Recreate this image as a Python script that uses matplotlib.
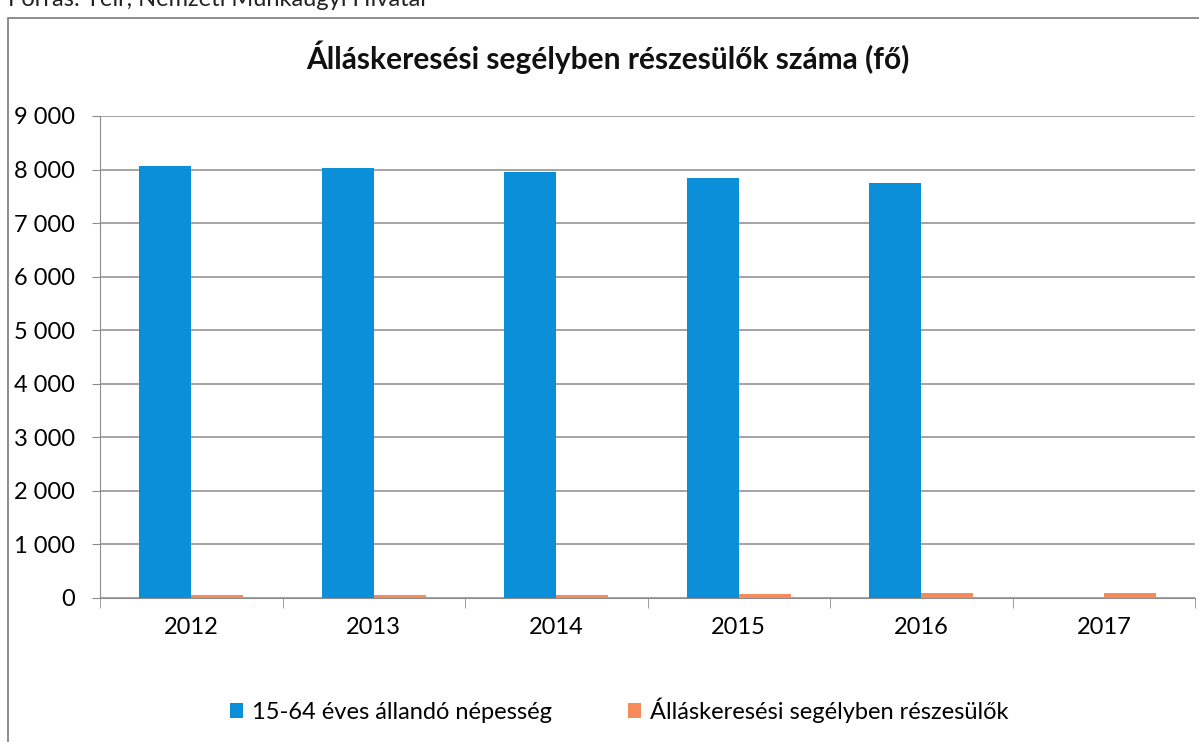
import numpy as np
import matplotlib.pyplot as plt
from matplotlib.patches import Rectangle

plt.rcParams['font.family'] = ['Lato', 'DejaVu Sans']

# data
years = ['2012', '2013', '2014', '2015', '2016', '2017']
nepesseg = [8060, 8020, 7950, 7850, 7740, 0]
segely = [50, 60, 65, 75, 85, 95]
y_ticks = [0, 1000, 2000, 3000, 4000, 5000, 6000, 7000, 8000, 9000]
y_labels = ['0', '1 000', '2 000', '3 000', '4 000', '5 000', '6 000', '7 000', '8 000', '9 000']

blue = '#0b8fd9'
orange = '#f58b58'
grid_c = '#8c8c8c'

fig = plt.figure(figsize=(11.99, 7.42), dpi=100)

# chart frame (partly cut by the scan)
fig.patches.append(Rectangle((8 / 1199, -0.05), 1.2, 1.05 - 18 / 742,
                             transform=fig.transFigure, fill=False,
                             edgecolor='#7a7a7a', lw=1.2))
fig.text(8 / 1199, 1.0, 'Forrás: Teir, Nemzeti Munkaügyi Hivatal',
         fontsize=17, va='center', ha='left', color='#222222')

ax = fig.add_axes([100 / 1199, 1 - 598 / 742, 1095 / 1199, (598 - 116) / 742])

x = np.arange(len(years))
w = 0.285
ax.bar(x - w / 2, nepesseg, w, color=blue, label='15-64 éves állandó népesség', zorder=3)
ax.bar(x + w / 2, segely, w, color=orange, label='Álláskeresési segélyben részesülők', zorder=3)

ax.set_xlim(-0.5, len(years) - 0.5)
ax.set_ylim(0, 9000)
ax.set_yticks(y_ticks)
ax.set_yticklabels(y_labels, fontsize=17)
ax.set_xticks(x)
ax.set_xticklabels(years, fontsize=17)
ax.set_xticks(np.arange(len(years) + 1) - 0.5, minor=True)
ax.tick_params(axis='x', which='major', length=0, pad=14)
ax.tick_params(axis='x', which='minor', length=7, color=grid_c)
ax.tick_params(axis='y', length=6, color=grid_c, pad=12)

ax.grid(axis='y', color=grid_c, lw=1.1, zorder=0)
for s in ['top', 'right']:
    ax.spines[s].set_visible(False)
ax.spines['left'].set_color(grid_c)
ax.spines['bottom'].set_color(grid_c)

fig.text(0.507, 1 - 57 / 742, 'Álláskeresési segélyben részesülők száma (fő)',
         fontsize=21.5, fontweight='bold', ha='center', va='center', color='#111111')

fig.legend(loc='center', bbox_to_anchor=(619 / 1199, 1 - 710 / 742), ncol=2, frameon=False,
           fontsize=17, handlelength=0.55, handleheight=0.55, columnspacing=3.2,
           handletextpad=0.4)

fig.savefig('out.png', dpi=100)
